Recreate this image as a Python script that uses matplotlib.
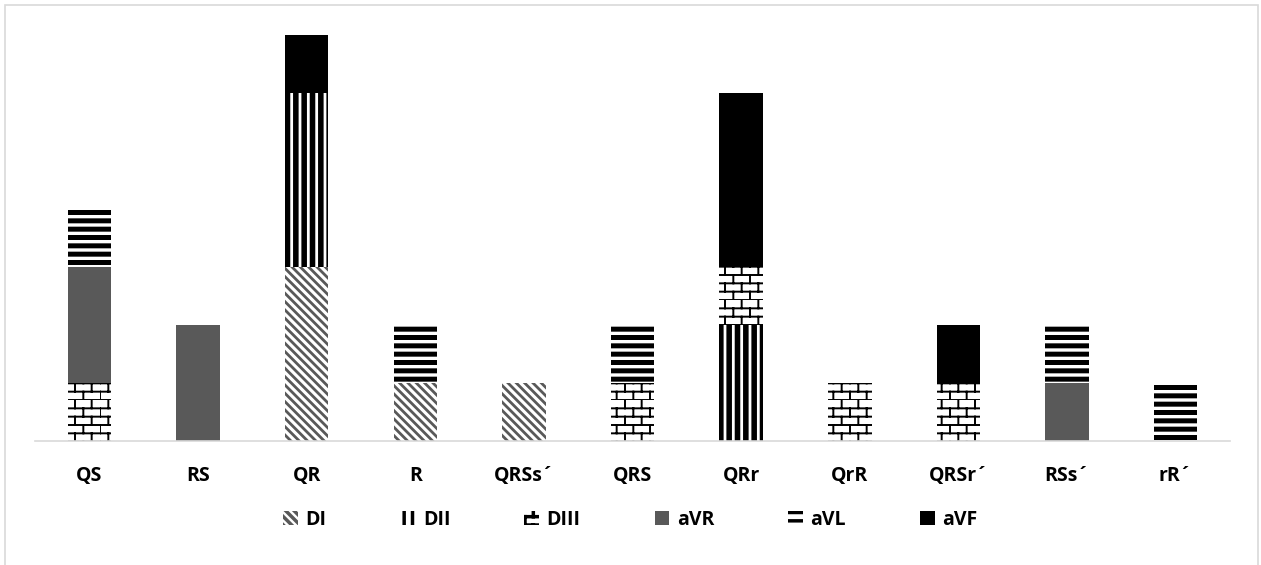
import warnings
import matplotlib
matplotlib.use("Agg")
import matplotlib.pyplot as plt
import matplotlib.hatch as mhatch
from matplotlib.patches import Patch, Rectangle
from matplotlib.path import Path

warnings.filterwarnings("ignore")

# QRS morphology per lead
categories = ["QS", "RS", "QR", "R", "QRSs´", "QRS", "QRr", "QrR", "QRSr´", "RSs´", "rR´"]
leads = ["DI", "DII", "DIII", "aVR", "aVL", "aVF"]
DI   = [0, 0, 3, 1, 1, 0, 0, 0, 0, 0, 0]
DII  = [0, 0, 3, 0, 0, 0, 2, 0, 0, 0, 0]
DIII = [1, 0, 0, 0, 0, 1, 1, 1, 1, 0, 0]
aVR  = [2, 2, 0, 0, 0, 0, 0, 0, 0, 1, 0]
aVL  = [1, 0, 0, 1, 0, 1, 0, 0, 0, 1, 1]
aVF  = [0, 0, 1, 0, 0, 0, 3, 0, 1, 0, 0]
series = [DI, DII, DIII, aVR, aVL, aVF]


class BrickHatch(mhatch.HatchPatternBase):
    """Brick wall hatch, selected with the 'b' character."""

    def __init__(self, hatch, density):
        self.num_rows = int(hatch.count('b') * density)
        self.per_row = max(self.num_rows // 2, 1)
        self.num_vertices = self.num_rows * (1 + self.per_row) * 2

    def set_vertices_and_codes(self, vertices, codes):
        k = 0
        for i in range(self.num_rows):
            y0 = i / self.num_rows
            y1 = (i + 1) / self.num_rows
            vertices[k] = (0, y0)
            vertices[k + 1] = (1, y0)
            codes[k] = Path.MOVETO
            codes[k + 1] = Path.LINETO
            k += 2
            shift = 0.5 * (i % 2)
            for j in range(self.per_row):
                x = (j + shift) / self.per_row
                vertices[k] = (x, y0)
                vertices[k + 1] = (x, y1)
                codes[k] = Path.MOVETO
                codes[k + 1] = Path.LINETO
                k += 2


mhatch._hatch_types.append(BrickHatch)

# (face, hatch, hatch colour, hatch linewidth)
styles = [
    ("white", "\\\\\\\\", "#595959", 2.0),
    ("white", "||", "black", 4.0),
    ("white", "bb", "black", 1.4),
    ("#595959", None, None, 1.0),
    ("white", "--", "black", 3.6),
    ("black", None, None, 1.0),
]

plt.rcParams["font.family"] = ["Open Sans", "DejaVu Sans"]
plt.rcParams["font.weight"] = "bold"

fig = plt.figure(figsize=(12.61, 5.65), dpi=100)
ax = fig.add_axes([35 / 1261, 1 - 441 / 565, 1195 / 1261, 406 / 565])

x = list(range(len(categories)))
bottom = [0] * len(categories)
handles = []
for name, vals, (face, hatch, hcol, hlw) in zip(leads, series, styles):
    with plt.rc_context({"hatch.linewidth": hlw}):
        edge = hcol if hcol else face
        bars = ax.bar(x, vals, width=0.4, bottom=bottom, color=face,
                      edgecolor=edge, linewidth=0, hatch=hatch)
        h = Patch(facecolor=face, edgecolor=edge, linewidth=0, hatch=hatch, label=name)
        for p in list(bars) + [h]:
            if hasattr(p, "set_hatch_linewidth"):
                p.set_hatch_linewidth(hlw)
    handles.append(h)
    bottom = [b + v for b, v in zip(bottom, vals)]

ax.set_xlim(-0.5, len(categories) - 0.5)
ax.set_ylim(0, 7)
ax.set_xticks(x)
ax.set_xticklabels(categories, fontsize=14, fontweight="bold")
ax.set_yticks([])
ax.tick_params(axis="x", length=0, pad=18)
for s in ["top", "left", "right"]:
    ax.spines[s].set_visible(False)
ax.spines["bottom"].set_color("#d9d9d9")
ax.spines["bottom"].set_linewidth(1.2)

with plt.rc_context({"hatch.linewidth": 2.5}):
    fig.legend(handles=handles, loc="center", bbox_to_anchor=(0.5, 1 - 520 / 565),
               ncol=6, frameon=False, fontsize=14, handlelength=0.75,
               handleheight=0.75, handletextpad=0.4, columnspacing=3.8)

# light chart border
fig.patches.append(Rectangle((5 / 1261, -0.02), 1253 / 1261, 1.02 - 5 / 565,
                             transform=fig.transFigure, fill=False,
                             edgecolor="#d9d9d9", linewidth=1.2))

fig.savefig("out.png", dpi=100)
